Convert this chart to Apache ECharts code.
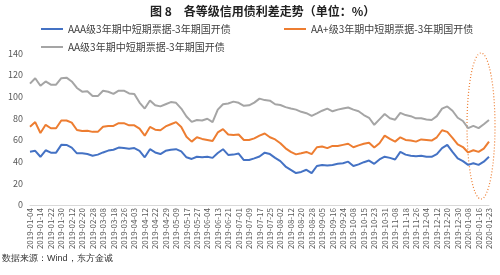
<!DOCTYPE html>
<html><head><meta charset="utf-8">
<script src="https://cdn.jsdelivr.net/npm/echarts@6/dist/echarts.min.js"></script>
<style>html,body{margin:0;padding:0;background:#fff}#c{width:500px;height:275px}</style>
</head><body><div id="c"></div>
<script>
const dateLabels = ['2019-01-04','2019-01-14','2019-01-22','2019-01-30','2019-02-12','2019-02-20','2019-02-28','2019-03-08','2019-03-18','2019-03-26','2019-04-03','2019-04-12','2019-04-22','2019-04-29','2019-05-09','2019-05-17','2019-05-27','2019-06-04','2019-06-13','2019-06-21','2019-07-01','2019-07-09','2019-07-17','2019-07-25','2019-08-02','2019-08-12','2019-08-20','2019-08-28','2019-09-05','2019-09-16','2019-09-24','2019-10-08','2019-10-15','2019-10-23','2019-10-31','2019-11-08','2019-11-18','2019-11-26','2019-12-04','2019-12-12','2019-12-20','2019-12-30','2020-01-08','2020-01-16','2020-01-23'];
const seriesNames = ['AAA级3年期中短期票据-3年期国开债','AA+级3年期中短期票据-3年期国开债','AA级3年期中短期票据-3年期国开债'];
const aaa = [49.2,50,44.5,50.5,48.3,48.3,55.5,55.4,53,47.7,47.7,47,45.5,46.5,48.5,50.2,51,53,52.5,52,52.5,50,44,51.5,48.5,47,50,51,51.5,49.5,44,42.5,44.5,44,44.5,43.5,48,51.5,46.2,46.5,47.5,41.5,41.5,43,44.8,48.3,47,43.5,40.5,35.5,32.5,29.5,30.5,32.5,29.5,36,37,36.5,37,38,38.5,40,36,37.5,39.5,41,38,42,44.6,43.5,42,49,46.5,45.5,45,45.5,44.5,44.5,47,52.5,55.5,49,43,40.5,37,38.5,37,40,44.5];
const aaPlus = [72.3,76.5,66.5,74,70.8,70.8,78,78,76,69.2,68.2,68.5,67.5,67.5,72.2,73,73,75.5,75.5,73.5,73.5,70.5,64,72,69.5,69,72.5,74.5,76.5,72,63,58.5,62.5,61,60,59,67,70,65,64.6,65,60,60,61.5,64,66,62.5,60.5,57,52.3,49,46.7,47.8,49,47,53.3,54,52.5,54.5,54.5,55.5,56.5,53.3,55,56.5,57.5,53,57,64,61,58.5,62.5,60,59.5,58.5,60.5,60,59.5,62.5,69,67.5,62,56,53.5,48.5,50.5,49,52,58.5];
const aa = [112,117,110,114,111,111,117,117.5,114,108,104.6,105,100.5,100.5,105.5,104.5,102.5,105.5,105.5,103,102.5,94.5,89,96.5,92,91,93,95,94.3,89,81.7,76.7,78.4,78,79.6,76.5,88,93,93.7,95.4,94.3,91.5,92,94.5,98.2,96.8,96.3,93,92.3,90.3,89,88,86,84.7,82.3,84.6,87,89,86.5,88,89,90,88,86.5,83,80.5,74,79,84,80,78.7,85,83,82,80,80,79,78.5,82,89,91,87,80.5,77.5,71,73,71,74.5,78.5];
const yTicks = [0,20,40,60,80,100,120,140];
const colors = ['#4472C4','#ED7D31','#A5A5A5'];

const categories = [];
dateLabels.forEach((d, i) => {
  categories.push(d);
  if (i < dateLabels.length - 1) categories.push(d + ' ');
});

const chart = echarts.init(document.getElementById('c'), null, {renderer: 'canvas'});
const font = '"Noto Sans CJK SC","Noto Sans",sans-serif';
const legendBase = {icon: 'rect', itemWidth: 22, itemHeight: 2, textStyle: {fontSize: 10, color: '#404040', fontFamily: font}, selectedMode: false};
chart.setOption({
  animation: false,
  color: colors,
  title: {text: '图 8　各等级信用债利差走势（单位：%）', left: 145, top: 0,
    textStyle: {fontSize: 12, fontWeight: 'bold', color: '#222', fontFamily: font}},
  legend: [
    Object.assign({}, legendBase, {data: [seriesNames[0]], left: 36, top: 19}),
    Object.assign({}, legendBase, {data: [seriesNames[1]], left: 279, top: 19}),
    Object.assign({}, legendBase, {data: [seriesNames[2]], left: 36, top: 37})
  ],
  grid: {left: 30, right: 11, top: 53.3, bottom: 70, containLabel: false},
  xAxis: {
    type: 'category', data: categories, boundaryGap: false,
    axisLine: {lineStyle: {color: '#D9D9D9'}}, axisTick: {show: false},
    axisLabel: {interval: 1, rotate: 90, fontSize: 8, color: '#595959', margin: 3, fontFamily: font}
  },
  yAxis: {
    type: 'value', min: yTicks[0], max: yTicks[yTicks.length - 1], interval: 20,
    axisLine: {show: false}, axisTick: {show: false}, splitLine: {show: false},
    axisLabel: {fontSize: 9, color: '#595959', margin: 7, fontFamily: font}
  },
  series: [
    {name: seriesNames[0], type: 'line', data: aaa, symbol: 'none', lineStyle: {width: 2, color: colors[0]}},
    {name: seriesNames[1], type: 'line', data: aaPlus, symbol: 'none', lineStyle: {width: 2, color: colors[1]}},
    {name: seriesNames[2], type: 'line', data: aa, symbol: 'none', lineStyle: {width: 2, color: colors[2]}}
  ],
  graphic: [
    {type: 'ellipse', shape: {cx: 481, cy: 126, rx: 14, ry: 73},
     style: {fill: 'none', stroke: '#ED7D31', lineWidth: 1.2, lineDash: [1, 2]}},
    {type: 'text', left: 2, top: 254,
     style: {text: '数据来源：Wind，东方金诚', fontSize: 9, fill: '#333', font: '9px "Noto Sans CJK SC", serif'}}
  ]
});
</script></body></html>
